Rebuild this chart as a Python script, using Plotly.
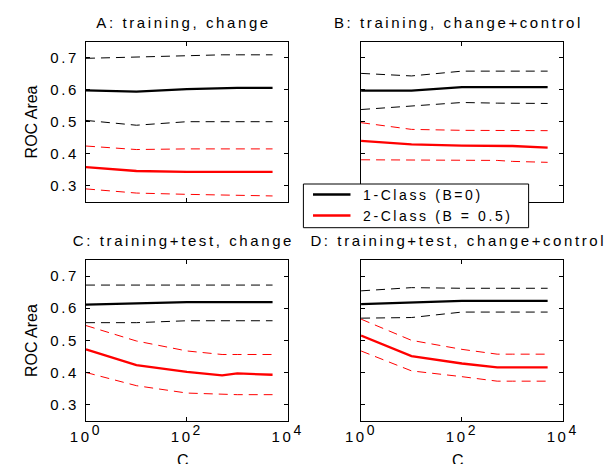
import json
import plotly.graph_objects as go

# ---------------- data ----------------
C_VALUES = [1, 10, 100, 500, 1000, 5000]

# Panel A: training, change
A_ONE_UPPER = [0.698, 0.702, 0.708, 0.709, 0.709, 0.709]
A_ONE_MEAN = [0.598, 0.594, 0.602, 0.606, 0.606, 0.606]
A_ONE_LOWER = [0.504, 0.489, 0.500, 0.500, 0.500, 0.500]
A_TWO_UPPER = [0.424, 0.413, 0.415, 0.415, 0.415, 0.415]
A_TWO_MEAN = [0.358, 0.346, 0.343, 0.343, 0.343, 0.343]
A_TWO_LOWER = [0.290, 0.277, 0.273, 0.271, 0.270, 0.268]

# Panel B: training, change+control
B_ONE_UPPER = [0.651, 0.643, 0.658, 0.658, 0.658, 0.658]
B_ONE_MEAN = [0.597, 0.597, 0.608, 0.608, 0.608, 0.608]
B_ONE_LOWER = [0.538, 0.548, 0.560, 0.558, 0.557, 0.557]
B_TWO_UPPER = [0.497, 0.476, 0.473, 0.472, 0.472, 0.472]
B_TWO_MEAN = [0.440, 0.429, 0.425, 0.425, 0.424, 0.419]
B_TWO_LOWER = [0.381, 0.380, 0.381, 0.379, 0.376, 0.373]

# Panel C: training+test, change
C_ONE_UPPER = [0.672, 0.672, 0.672, 0.672, 0.672, 0.672]
C_ONE_MEAN = [0.611, 0.615, 0.619, 0.619, 0.619, 0.619]
C_ONE_LOWER = [0.555, 0.555, 0.561, 0.561, 0.561, 0.561]
C_TWO_UPPER = [0.546, 0.498, 0.467, 0.456, 0.456, 0.456]
C_TWO_MEAN = [0.472, 0.423, 0.402, 0.391, 0.397, 0.393]
C_TWO_LOWER = [0.400, 0.359, 0.336, 0.331, 0.331, 0.331]

# Panel D: training+test, change+control
D_ONE_UPPER = [0.654, 0.664, 0.662, 0.662, 0.662, 0.662]
D_ONE_MEAN = [0.613, 0.619, 0.623, 0.623, 0.623, 0.623]
D_ONE_LOWER = [0.569, 0.571, 0.588, 0.588, 0.588, 0.588]
D_TWO_UPPER = [0.566, 0.500, 0.472, 0.457, 0.457, 0.457]
D_TWO_MEAN = [0.515, 0.451, 0.428, 0.416, 0.416, 0.416]
D_TWO_LOWER = [0.467, 0.405, 0.387, 0.373, 0.373, 0.373]

PANEL_TITLES = ["A: training, change", "B: training, change+control",
                "C: training+test, change", "D: training+test, change+control"]
SERIES_NAMES = ["1-Class (B=0)", "2-Class (B = 0.5)"]
Y_TITLE = "ROC Area"
X_TITLE = "C"
Y_TICKS = [0.3, 0.4, 0.5, 0.6, 0.7]
X_TICKS = [1, 100, 10000]
X_TICK_LABELS = ['10<sup><span style="font-size:14px">0</span></sup>',
                 '10<sup><span style="font-size:14px">2</span></sup>',
                 '10<sup><span style="font-size:14px">4</span></sup>']

PANELS = [
    (A_ONE_UPPER, A_ONE_MEAN, A_ONE_LOWER, A_TWO_UPPER, A_TWO_MEAN, A_TWO_LOWER),
    (B_ONE_UPPER, B_ONE_MEAN, B_ONE_LOWER, B_TWO_UPPER, B_TWO_MEAN, B_TWO_LOWER),
    (C_ONE_UPPER, C_ONE_MEAN, C_ONE_LOWER, C_TWO_UPPER, C_TWO_MEAN, C_TWO_LOWER),
    (D_ONE_UPPER, D_ONE_MEAN, D_ONE_LOWER, D_TWO_UPPER, D_TWO_MEAN, D_TWO_LOWER),
]

# ---------------- layout geometry (pixels) ----------------
W, H = 612, 464
FONT = "Liberation Sans, Arial, Helvetica, sans-serif"
COL_X = [(77, 287), (363.3, 573.3)]
ROW_Y = [(41.7, 201.7), (260, 420.7)]
LEGEND_TEXT_LEFT = 363

def px_x(v):
    return v / W

def px_y(v):
    return 1 - v / H

BLACK = "#000000"
RED = "#ff0000"
DASH = "9px,6px"

fig = go.Figure()

for i, series in enumerate(PANELS):
    ax = "" if i == 0 else str(i + 1)
    styles = [(BLACK, DASH, 1), (BLACK, "solid", 2.3), (BLACK, DASH, 1),
              (RED, DASH, 1), (RED, "solid", 2.3), (RED, DASH, 1)]
    for vals, (col, dash, wid) in zip(series, styles):
        fig.add_trace(go.Scatter(
            x=C_VALUES, y=vals, mode="lines",
            line=dict(color=col, dash=dash, width=wid),
            xaxis="x" + ax, yaxis="y" + ax, showlegend=False, hoverinfo="skip"))

layout = dict(
    width=W, height=H,
    margin=dict(l=0, r=0, t=0, b=0),
    paper_bgcolor="white", plot_bgcolor="white",
    font=dict(family=FONT, size=15, color="black"),
    showlegend=False,
)

annotations = []
shapes = []
for i in range(4):
    r, c = divmod(i, 2)
    x0, x1 = COL_X[c]
    y0, y1 = ROW_Y[r]
    ax = "" if i == 0 else str(i + 1)
    layout["xaxis" + ax] = dict(
        type="log", range=[0, 4], domain=[px_x(x0), px_x(x1)],
        anchor="y" + ax, showgrid=False, zeroline=False,
        showline=True, linecolor="black", linewidth=1, mirror="ticks",
        ticks="inside", ticklen=4, tickcolor="black",
        tickvals=X_TICKS, ticktext=X_TICK_LABELS,
        showticklabels=(r == 1), tickfont=dict(size=15),
        ticklabelstandoff=2,
    )
    layout["yaxis" + ax] = dict(
        range=[0.25, 0.75], domain=[px_y(y1), px_y(y0)],
        anchor="x" + ax, showgrid=False, zeroline=False,
        showline=True, linecolor="black", linewidth=1, mirror="ticks",
        ticks="inside", ticklen=4, tickcolor="black",
        tickvals=Y_TICKS, tickformat=".1f",
        showticklabels=(c == 0), tickfont=dict(size=15),
        ticklabelstandoff=3,
    )
    # panel title
    annotations.append(dict(
        text=PANEL_TITLES[i], xref="paper", yref="paper",
        x=px_x((x0 + x1) / 2 - 4), y=px_y(y0 - 19.5),
        xanchor="center", yanchor="middle", showarrow=False,
        font=dict(size=15)))
    if c == 0:
        annotations.append(dict(
            text=Y_TITLE, xref="paper", yref="paper",
            x=px_x(20.5), y=px_y((y0 + y1) / 2),
            xanchor="center", yanchor="middle", textangle=-90,
            showarrow=False, font=dict(size=16)))
    if r == 1:
        annotations.append(dict(
            text=X_TITLE, xref="paper", yref="paper",
            x=px_x((x0 + x1) / 2 - 4), y=px_y(460),
            xanchor="center", yanchor="middle",
            showarrow=False, font=dict(size=16)))

# legend box (drawn manually to match the boxed legend of the original)
LEG_X0, LEG_X1, LEG_Y0, LEG_Y1 = 303.3, 537.7, 184, 227.7
shapes.append(dict(type="rect", xref="paper", yref="paper",
                   x0=px_x(LEG_X0), x1=px_x(LEG_X1), y0=px_y(LEG_Y1), y1=px_y(LEG_Y0),
                   line=dict(color="black", width=1), fillcolor="white", layer="above"))
for name, col, yy in zip(SERIES_NAMES, [BLACK, RED], [194.5, 215.5]):
    shapes.append(dict(type="line", xref="paper", yref="paper",
                       x0=px_x(313.3), x1=px_x(352.3), y0=px_y(yy), y1=px_y(yy),
                       line=dict(color=col, width=2.3), layer="above"))
    annotations.append(dict(
        text=name, xref="paper", yref="paper", x=px_x(LEGEND_TEXT_LEFT), y=px_y(yy),
        xanchor="left", yanchor="middle", showarrow=False, font=dict(size=14)))

layout["annotations"] = annotations
layout["shapes"] = shapes
fig.update_layout(**layout)

post = """
document.body.style.margin = '0';
document.body.style.padding = '0';
var gd = document.getElementById('{plot_id}');
var legendNames = %s;
var legendLeft = %f;
gd.querySelectorAll('text').forEach(function(t){
  var s = t.textContent;
  if (s === 'ROC Area' || s === 'C') return;
  t.style.letterSpacing = '2.6px';
});
gd.querySelectorAll('text.annotation-text').forEach(function(t){
  if (legendNames.indexOf(t.textContent) < 0) return;
  var gr = gd.getBoundingClientRect();
  var r = t.getBoundingClientRect();
  var dx = (gr.left + legendLeft) - r.left;
  t.setAttribute('x', parseFloat(t.getAttribute('x') || 0) + dx);
});
""" % (json.dumps(SERIES_NAMES), LEGEND_TEXT_LEFT)
fig.write_html("out.html", post_script=post, config={"displayModeBar": False, "responsive": False})
